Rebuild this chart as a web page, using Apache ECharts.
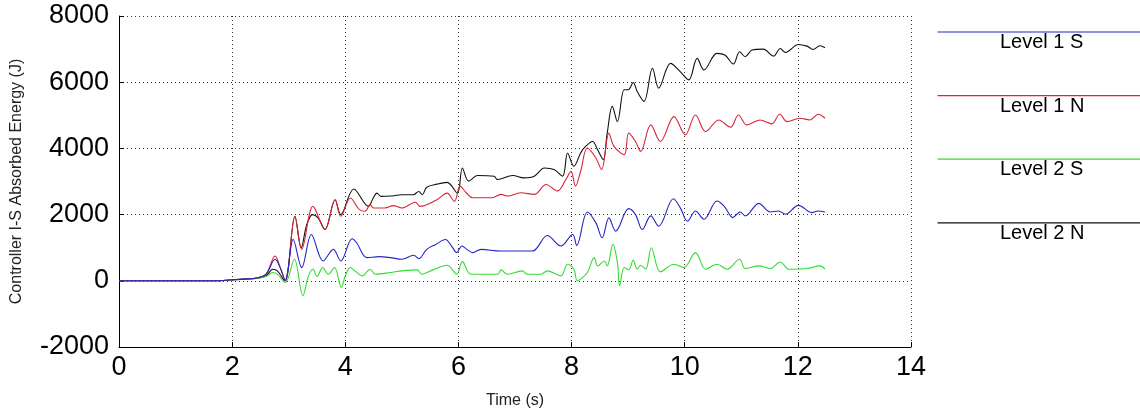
<!DOCTYPE html>
<html>
<head>
<meta charset="utf-8">
<script src="https://cdn.jsdelivr.net/npm/echarts@6/dist/echarts.min.js"></script>
<style>
html,body{margin:0;padding:0;background:#fff;}
#chart{width:1140px;height:414px;}
</style>
</head>
<body>
<div id="chart"></div>
<script>
// ---- data (time s, energy J) ----
const seriesNames = ['Level 1 S', 'Level 1 N', 'Level 2 S', 'Level 2 N'];
const xTicks = [0, 2, 4, 6, 8, 10, 12, 14];
const yTicks = [-2000, 0, 2000, 4000, 6000, 8000];

const level1S = [[0,0],[1.7,0],[2.0,30],[2.2,50],[2.45,90],[2.6,200],[2.76,650],[2.86,350],[2.94,0],[3.08,1250],[3.23,400],[3.4,1400],[3.61,600],[3.79,950],[3.92,600],[4.12,1270],[4.2,1150],[4.38,700],[4.6,730],[4.8,700],[5.0,650],[5.21,770],[5.3,670],[5.44,950],[5.6,1100],[5.77,1250],[5.88,1050],[5.97,850],[6.06,1050],[6.15,950],[6.25,850],[6.4,950],[6.75,900],[7.0,900],[7.31,900],[7.57,1370],[7.81,1050],[8.02,1400],[8.09,1070],[8.28,2080],[8.43,1750],[8.54,1300],[8.66,1900],[8.78,1500],[9.01,2180],[9.13,2000],[9.25,1550],[9.4,1960],[9.54,1650],[9.8,2480],[9.92,2210],[10.05,1800],[10.19,2110],[10.34,1860],[10.57,2410],[10.7,2250],[10.85,1910],[10.98,2080],[11.07,1960],[11.31,2340],[11.51,2080],[11.66,2110],[11.78,2010],[12.01,2280],[12.25,2060],[12.36,2110],[12.48,2080]];

const level1N = [[0,0],[1.7,0],[2.0,30],[2.2,50],[2.45,90],[2.6,200],[2.76,750],[2.85,400],[2.94,0],[3.11,1950],[3.23,950],[3.43,2250],[3.64,1550],[3.82,2450],[3.92,1950],[4.09,2500],[4.25,2150],[4.35,2100],[4.44,2300],[4.5,2200],[4.7,2200],[4.85,2270],[5.0,2200],[5.24,2375],[5.32,2250],[5.62,2450],[5.8,2650],[5.93,2400],[6.03,2860],[6.14,2660],[6.25,2510],[6.6,2510],[6.75,2610],[6.87,2560],[7.1,2660],[7.34,2610],[7.55,2910],[7.75,2710],[7.9,3060],[7.99,3310],[8.07,2860],[8.16,3310],[8.28,4010],[8.43,3710],[8.53,3360],[8.66,4460],[8.75,4060],[8.93,3810],[9.01,4460],[9.13,4210],[9.22,3910],[9.4,4710],[9.57,4210],[9.81,4960],[10.01,4410],[10.19,5010],[10.37,4510],[10.6,4860],[10.81,4640],[10.95,5010],[11.1,4710],[11.33,4860],[11.54,4740],[11.68,5030],[11.81,4810],[12.04,4910],[12.21,4860],[12.36,5030],[12.48,4910]];

const level2S = [[0,0],[1.7,0],[2.0,30],[2.2,50],[2.45,80],[2.6,130],[2.72,250],[2.8,200],[2.94,-50],[3.1,650],[3.25,-450],[3.35,150],[3.43,350],[3.5,130],[3.6,400],[3.7,200],[3.81,400],[3.93,-200],[4.0,150],[4.09,400],[4.17,300],[4.3,150],[4.44,350],[4.53,200],[4.8,250],[5.0,300],[5.27,330],[5.35,200],[5.55,330],[5.8,470],[5.97,200],[6.07,580],[6.22,200],[6.7,200],[6.75,330],[6.87,200],[7.13,300],[7.22,200],[7.46,200],[7.57,300],[7.81,150],[7.93,500],[8.04,350],[8.1,0],[8.16,50],[8.28,250],[8.4,700],[8.46,450],[8.58,600],[8.63,450],[8.73,1100],[8.81,550],[8.85,-150],[8.93,400],[9.01,330],[9.09,630],[9.16,350],[9.22,470],[9.31,350],[9.41,1000],[9.57,270],[9.81,500],[9.98,400],[10.19,850],[10.37,350],[10.57,500],[10.75,350],[10.97,650],[11.07,370],[11.31,450],[11.51,370],[11.69,570],[11.84,350],[12.16,370],[12.39,450],[12.48,350]];

const level2N = [[0,0],[1.7,0],[2.0,30],[2.2,50],[2.45,80],[2.6,150],[2.72,350],[2.8,300],[2.93,0],[3.11,1950],[3.22,1000],[3.32,1700],[3.42,2000],[3.52,1900],[3.64,1550],[3.82,2450],[3.92,2000],[4.15,2775],[4.41,2250],[4.48,2450],[4.56,2650],[4.63,2550],[4.8,2560],[5.0,2600],[5.2,2600],[5.3,2700],[5.36,2600],[5.44,2825],[5.62,2920],[5.8,2975],[5.98,2650],[6.07,3410],[6.18,3010],[6.34,3180],[6.63,3160],[6.69,3060],[6.96,3180],[7.16,3110],[7.34,3160],[7.52,3410],[7.69,3360],[7.84,3160],[7.93,3860],[8.04,3460],[8.16,3860],[8.22,4010],[8.37,4210],[8.46,3960],[8.56,3660],[8.63,4460],[8.72,5270],[8.81,4810],[8.93,5770],[9.0,5770],[9.09,5990],[9.16,5720],[9.28,5420],[9.43,6420],[9.54,5820],[9.75,6570],[9.92,6320],[10.07,6070],[10.22,6720],[10.34,6370],[10.57,6870],[10.71,6820],[10.86,6550],[10.97,6920],[11.07,6770],[11.19,6970],[11.39,7000],[11.57,6790],[11.69,7020],[11.78,6900],[12.01,7140],[12.16,7090],[12.27,6990],[12.39,7100],[12.48,7040]];

const seriesData = [level1S, level1N, level2S, level2N];
const colors = ['#2424c8', '#dc2434', '#30dc30', '#111111'];

// ---- chart ----
const chart = echarts.init(document.getElementById('chart'), null, {renderer: 'canvas'});
const FONT = "'Liberation Sans', Arial, Helvetica, sans-serif";

const legendGraphics = [];
seriesNames.forEach((name, i) => {
  const y = 29.5 + i * 63.6;
  legendGraphics.push({
    type: 'line', left: 935, top: y,
    shape: {x1: 0, y1: 0, x2: 210, y2: 0},
    style: {stroke: colors[i], lineWidth: 1.2}
  });
  legendGraphics.push({
    type: 'text', left: 1000, top: y + 3,
    style: {text: name, fill: '#000', font: '20px ' + FONT}
  });
});

const option = {
  animation: false,
  backgroundColor: '#fff',
  color: colors,
  grid: {left: 119, right: 229, top: 16, bottom: 66, containLabel: false},
  xAxis: {
    type: 'value', min: xTicks[0], max: xTicks[xTicks.length - 1], interval: 2,
    name: 'Time (s)', nameLocation: 'middle', nameGap: 46,
    nameTextStyle: {fontFamily: FONT, fontSize: 16, color: '#222'},
    axisLine: {show: true, onZero: false, lineStyle: {color: '#000', width: 1}},
    axisTick: {show: true, inside: true, length: 5, lineStyle: {color: '#000'}},
    axisLabel: {fontFamily: FONT, fontSize: 27, color: '#000', margin: 7,
      formatter: v => String(v)},
    splitLine: {show: true, lineStyle: {color: '#333', width: 1, type: [1, 3]}}
  },
  yAxis: {
    type: 'value', min: yTicks[0], max: yTicks[yTicks.length - 1], interval: 2000,
    name: 'Controller I-S Absorbed Energy (J)', nameLocation: 'middle', nameGap: 94,
    nameRotate: 90,
    nameTextStyle: {fontFamily: FONT, fontSize: 16, color: '#222'},
    axisLine: {show: true, onZero: false, lineStyle: {color: '#000', width: 1}},
    axisTick: {show: true, inside: true, length: 5, lineStyle: {color: '#000'}},
    axisLabel: {fontFamily: FONT, fontSize: 27, color: '#000', margin: 10,
      formatter: v => String(v)},
    splitLine: {show: true, lineStyle: {color: '#333', width: 1, type: [1, 3]}}
  },
  series: seriesNames.map((name, i) => ({
    name: name, type: 'line', data: seriesData[i],
    showSymbol: false, smooth: 0.35,
    lineStyle: {width: 1.1, color: colors[i]},
    z: 10 - i
  })),
  graphic: legendGraphics
};
chart.setOption(option);
</script>
</body>
</html>
